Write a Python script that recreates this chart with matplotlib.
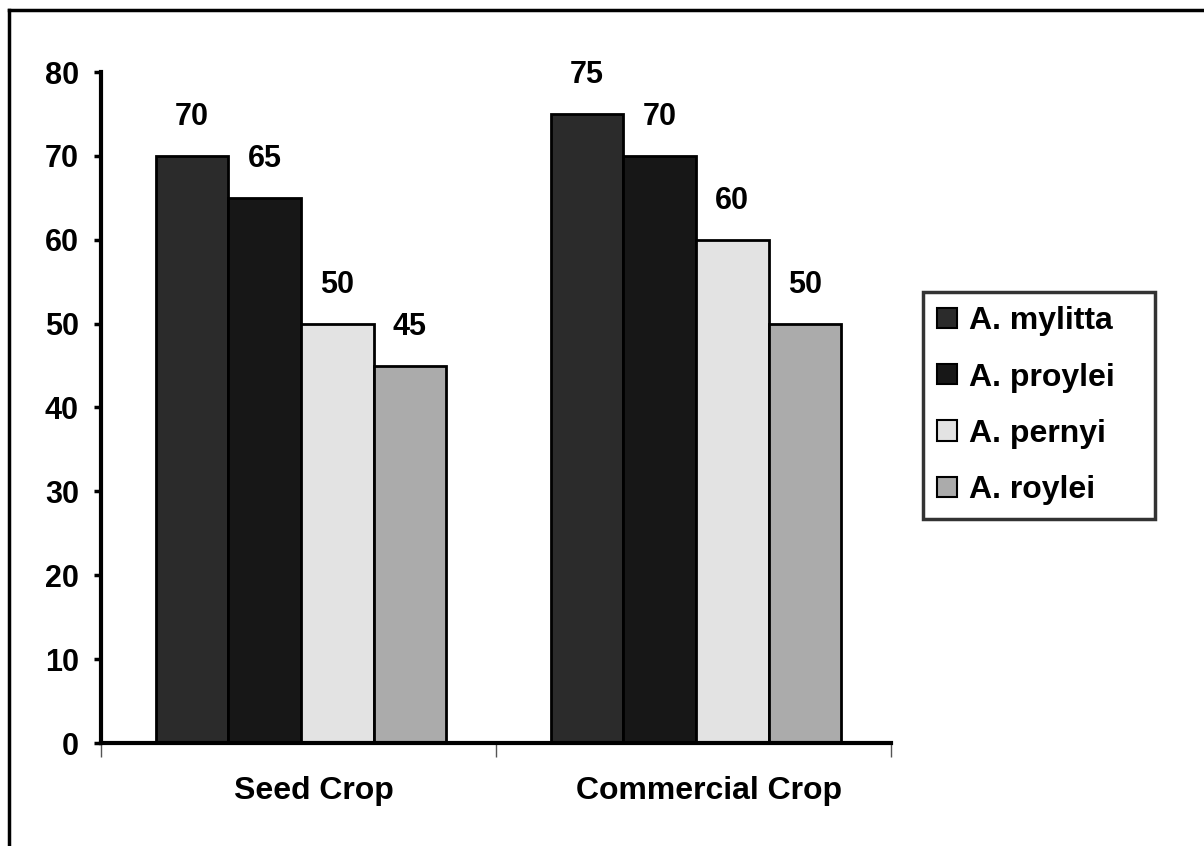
import numpy as np
import matplotlib.pyplot as plt
from matplotlib.lines import Line2D

# Data
categories = ["Seed Crop", "Commercial Crop"]
species = ["A. mylitta", "A. proylei", "A. pernyi", "A. roylei"]
values = {
    "A. mylitta": [70, 75],
    "A. proylei": [65, 70],
    "A. pernyi": [50, 60],
    "A. roylei": [45, 50],
}
colors = ["#2b2b2b", "#171717", "#e3e3e3", "#ababab"]

plt.rcParams["font.family"] = ["Liberation Sans", "DejaVu Sans"]
plt.rcParams["font.weight"] = "bold"

fig = plt.figure(figsize=(12.04, 8.46), dpi=100)
ax = fig.add_axes([101 / 1204, 103 / 846, 790 / 1204, 671 / 846])

x = np.arange(len(categories))
width = 0.184
offsets = (np.arange(len(species)) - 1.5) * width + 0.006
for i, sp in enumerate(species):
    bars = ax.bar(x + offsets[i], values[sp], width, color=colors[i],
                  edgecolor="black", linewidth=2, label=sp, zorder=2)
    for b, v in zip(bars, values[sp]):
        ax.annotate(str(v), (b.get_x() + b.get_width() / 2, v),
                    xytext=(0, 17), textcoords="offset points",
                    ha="center", va="bottom", fontsize=22, fontweight="bold")

ax.set_xlim(-0.5, 1.5)
ax.set_ylim(0, 80)
ax.set_yticks(np.arange(0, 81, 10))
ax.tick_params(axis="y", labelsize=22, width=2.5, length=5, pad=11)
ax.set_xticks([-0.5, 0.5, 1.5])
ax.set_xticklabels([])
# category labels sit a little right of the group centres
ax.set_xticks(x + 0.04, minor=True)
ax.set_xticklabels(categories, minor=True, fontsize=23, fontweight="bold")
ax.tick_params(axis="x", which="major", width=1, length=10, color="#555555")
ax.tick_params(axis="x", which="minor", length=0, pad=24)
for t in ax.get_yticklabels():
    t.set_fontweight("bold")

for s in ["top", "right"]:
    ax.spines[s].set_visible(False)
ax.spines["left"].set_linewidth(3)
ax.spines["bottom"].set_linewidth(3)

handles = [plt.Rectangle((0, 0), 1, 1, facecolor=c, edgecolor="black", linewidth=1.5)
           for c in colors]
leg = fig.legend(handles, species, loc="upper left", mode="expand",
                 bbox_to_anchor=(923 / 1204, 1 - 515 / 846, 232 / 1204, 223 / 846),
                 prop={"size": 23, "weight": "bold"}, frameon=True, fancybox=False,
                 handlelength=0.6, handleheight=0.6, handletextpad=0.4,
                 labelspacing=0.82, borderpad=0.45, borderaxespad=0)
leg.get_frame().set_edgecolor("black")
leg.get_frame().set_linewidth(2.5)

# Frame lines along top and left of the figure
fig.add_artist(Line2D([9 / 1204, 1], [1 - 10 / 846, 1 - 10 / 846], color="black", lw=2.5))
fig.add_artist(Line2D([9 / 1204, 9 / 1204], [0, 1 - 10 / 846], color="black", lw=2.5))

fig.savefig("out.png", dpi=100, facecolor="white")
